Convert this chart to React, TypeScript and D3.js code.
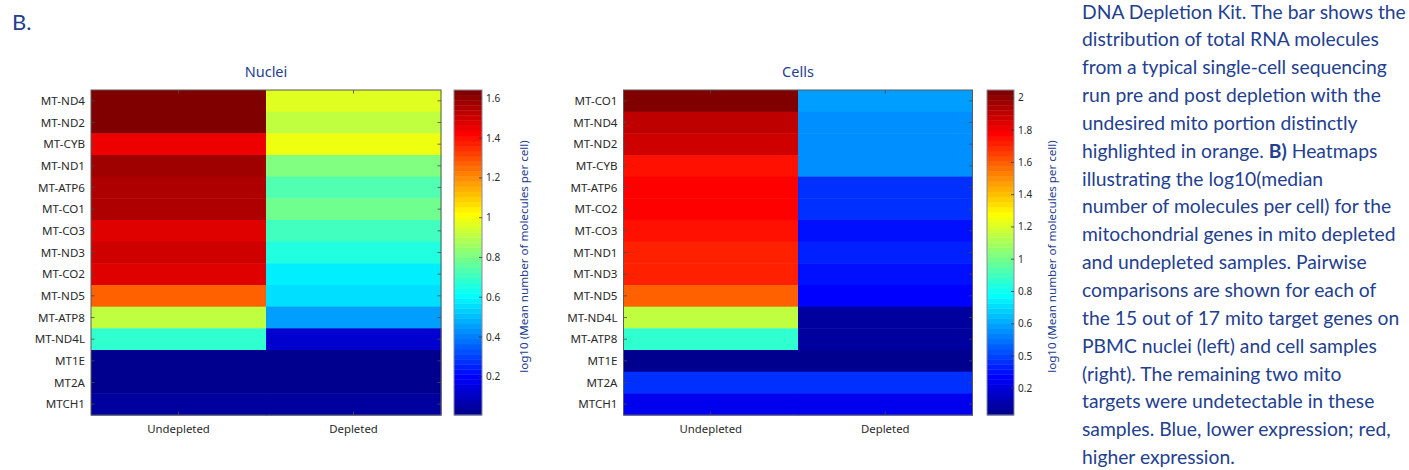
import React from "react";
import * as d3 from "d3";

// ---------- DATA ----------
const conditions = ["Undepleted", "Depleted"];

const nucleiGenes = ["MT-ND4", "MT-ND2", "MT-CYB", "MT-ND1", "MT-ATP6", "MT-CO1", "MT-CO3", "MT-ND3", "MT-CO2", "MT-ND5", "MT-ATP8", "MT-ND4L", "MT1E", "MT2A", "MTCH1"];
const nucleiUndepleted = [1.642, 1.62, 1.45, 1.58, 1.55, 1.56, 1.48, 1.5, 1.47, 1.27, 0.91, 0.69, 0.01, 0.008, 0.05];
const nucleiDepleted = [0.97, 0.92, 0.99, 0.81, 0.74, 0.79, 0.71, 0.66, 0.58, 0.56, 0.46, 0.12, 0.01, 0.01, 0.05];
const nucleiTickValues = [0.2, 0.4, 0.6, 0.8, 1.0, 1.2, 1.4, 1.6];
const nucleiTickLabels = ["0.2", "0.4", "0.6", "0.8", "1", "1.2", "1.4", "1.6"];

const cellsGenes = ["MT-CO1", "MT-ND4", "MT-ND2", "MT-CYB", "MT-ATP6", "MT-CO2", "MT-CO3", "MT-ND1", "MT-ND3", "MT-ND5", "MT-ND4L", "MT-ATP8", "MT1E", "MT2A", "MTCH1"];
const cellsUndepleted = [2.048, 1.9, 1.87, 1.75, 1.78, 1.77, 1.74, 1.71, 1.72, 1.59, 1.15, 0.87, 0.035, 0.37, 0.24];
const cellsDepleted = [0.59, 0.55, 0.55, 0.55, 0.37, 0.37, 0.3, 0.33, 0.3, 0.27, 0.08, 0.09, 0.04, 0.37, 0.24];
const cellsTickValues = [0.2, 0.4, 0.6, 0.8, 1.0, 1.2, 1.4, 1.6, 1.8, 2.0];
const cellsTickLabels = ["0.2", "0.5", "0.6", "0.8", "1", "1.2", "1.4", "1.6", "1.8", "2"];

const colorbarLabel = "log10 (Mean number of molecules per cell)";

const captionLines: { text: string; bold?: boolean }[][] = [
  [{ text: "DNA Depletion Kit. The bar shows the" }],
  [{ text: "distribution of total RNA molecules" }],
  [{ text: "from a typical single-cell sequencing" }],
  [{ text: "run pre and post depletion with the" }],
  [{ text: "undesired mito portion distinctly" }],
  [{ text: "highlighted in orange. " }, { text: "B)", bold: true }, { text: " Heatmaps" }],
  [{ text: "illustrating the log10(median" }],
  [{ text: "number of molecules per cell) for the" }],
  [{ text: "mitochondrial genes in mito depleted" }],
  [{ text: "and undepleted samples. Pairwise" }],
  [{ text: "comparisons are shown for each of" }],
  [{ text: "the 15 out of 17 mito target genes on" }],
  [{ text: "PBMC nuclei (left) and cell samples" }],
  [{ text: "(right). The remaining two mito" }],
  [{ text: "targets were undetectable in these" }],
  [{ text: "samples. Blue, lower expression; red," }],
  [{ text: "higher expression." }],
];

// ---------- MATLAB jet(64) ----------
function jet64(): string[] {
  const n = 64;
  const m = 16;
  const u: number[] = [];
  for (let i = 1; i <= m; i++) u.push(i / m);
  for (let i = 0; i < m - 1; i++) u.push(1);
  for (let i = m; i >= 1; i--) u.push(i / m);
  const R = new Array(n).fill(0), G = new Array(n).fill(0), B = new Array(n).fill(0);
  for (let j = 0; j < u.length; j++) {
    const g = 8 + j + 1; // 1-based
    const r = g + m;
    const b = g - m;
    if (g >= 1 && g <= n) G[g - 1] = u[j];
    if (r >= 1 && r <= n) R[r - 1] = u[j];
    if (b >= 1 && b <= n) B[b - 1] = u[j];
  }
  return R.map((_, i) => d3.rgb(R[i] * 255, G[i] * 255, B[i] * 255).formatHex());
}
const JET = jet64();

const BLUE_TEXT = "#23408e";
const AX_TEXT = "#2a2a2a";
const FONT = "'Noto Sans', 'Open Sans', sans-serif";

type PanelProps = {
  title: string;
  genes: string[];
  undep: number[];
  dep: number[];
  tickValues: number[];
  tickLabels: string[];
  x0: number;
  x1: number;
  cbX0: number;
  cbX1: number;
  labelX: number;
};

const Y0 = 90;
const Y1 = 415;

function Panel(p: PanelProps) {
  const values = [...p.undep, ...p.dep];
  const [cmin, cmax] = d3.extent(values) as [number, number];
  const colorIndex = (v: number) => {
    const k = Math.floor(((v - cmin) / (cmax - cmin)) * 64);
    return Math.max(0, Math.min(63, k));
  };
  const x = d3.scaleBand<string>().domain(conditions).range([p.x0, p.x1]);
  const y = d3.scaleBand<string>().domain(p.genes).range([Y0, Y1]);
  const cb = d3.scaleLinear().domain([cmin, cmax]).range([Y1, Y0]);
  const cbBand = d3.scaleBand<number>().domain(d3.range(64)).range([Y1, Y0]);
  const cols = [p.undep, p.dep];
  const tick = 3.5;
  return (
    <g>
      <text x={(p.x0 + p.x1) / 2} y={77} textAnchor="middle" fontSize={14.5} fill={BLUE_TEXT} fontFamily={FONT}>
        {p.title}
      </text>
      {cols.map((col, ci) =>
        col.map((v, gi) => (
          <rect
            key={`${ci}-${gi}`}
            x={x(conditions[ci])!}
            y={y(p.genes[gi])!}
            width={x.bandwidth() + 0.5}
            height={y.bandwidth() + 0.5}
            fill={JET[colorIndex(v)]}
          />
        ))
      )}
      <rect x={p.x0} y={Y0} width={p.x1 - p.x0} height={Y1 - Y0} fill="none" stroke="#5a5a5a" strokeWidth={1} />
      {p.genes.map((g) => {
        const cy = y(g)! + y.bandwidth() / 2;
        return (
          <g key={g}>
            <line x1={p.x0} x2={p.x0 + tick} y1={cy} y2={cy} stroke="#4a4a4a" strokeWidth={0.8} />
            <line x1={p.x1} x2={p.x1 - tick} y1={cy} y2={cy} stroke="#4a4a4a" strokeWidth={0.8} />
            <text x={p.x0 - 6} y={cy} dy="0.36em" textAnchor="end" fontSize={11.6} fill={AX_TEXT} fontFamily={FONT}>
              {g}
            </text>
          </g>
        );
      })}
      {conditions.map((c) => {
        const cx = x(c)! + x.bandwidth() / 2;
        return (
          <g key={c}>
            <line x1={cx} x2={cx} y1={Y0} y2={Y0 + tick} stroke="#4a4a4a" strokeWidth={0.8} />
            <line x1={cx} x2={cx} y1={Y1} y2={Y1 - tick} stroke="#4a4a4a" strokeWidth={0.8} />
            <text x={cx} y={433} textAnchor="middle" fontSize={11.4} fill={AX_TEXT} fontFamily={FONT}>
              {c}
            </text>
          </g>
        );
      })}
      {/* colorbar */}
      {d3.range(64).map((i) => (
        <rect key={i} x={p.cbX0} y={cbBand(i)!} width={p.cbX1 - p.cbX0} height={cbBand.bandwidth() + 0.4} fill={JET[i]} />
      ))}
      <rect x={p.cbX0} y={Y0} width={p.cbX1 - p.cbX0} height={Y1 - Y0} fill="none" stroke="#8a8a9a" strokeWidth={1} />
      {p.tickValues.map((t, i) => (
        <g key={t}>
          <line x1={p.cbX1} x2={p.cbX1 - 3} y1={cb(t)} y2={cb(t)} stroke="#333" strokeWidth={0.8} />
          <text x={p.cbX1 + 4} y={cb(t)} dy="0.35em" fontSize={10} fill={AX_TEXT} fontFamily={FONT}>
            {p.tickLabels[i]}
          </text>
        </g>
      ))}
      <text
        transform={`translate(${p.labelX},${(Y0 + Y1) / 2 + 4}) rotate(-90)`}
        textAnchor="middle"
        fontSize={11.6}
        fill={BLUE_TEXT}
        fontFamily={FONT}
      >
        {colorbarLabel}
      </text>
    </g>
  );
}

export default function App() {
  return (
    <svg
      width={1409}
      height={470}
      style={{ position: "absolute", left: 0, top: 0, background: "#fff" }}
    >
      <rect width={1409} height={470} fill="#fff" />
      <text x={12} y={30} fontSize={22} fill={BLUE_TEXT} fontFamily="Lato, 'Open Sans', sans-serif">
        B.
      </text>
      <Panel
        title="Nuclei"
        genes={nucleiGenes}
        undep={nucleiUndepleted}
        dep={nucleiDepleted}
        tickValues={nucleiTickValues}
        tickLabels={nucleiTickLabels}
        x0={91}
        x1={441}
        cbX0={454}
        cbX1={482}
        labelX={528}
      />
      <Panel
        title="Cells"
        genes={cellsGenes}
        undep={cellsUndepleted}
        dep={cellsDepleted}
        tickValues={cellsTickValues}
        tickLabels={cellsTickLabels}
        x0={623.5}
        x1={972.5}
        cbX0={987}
        cbX1={1014}
        labelX={1056}
      />
      <g fontFamily="Lato, 'Open Sans', sans-serif" fontSize={19.3} fill={BLUE_TEXT}>
        {captionLines.map((line, i) => (
          <text key={i} x={1082} y={18.5 + i * 27.85}>
            {line.map((seg, j) => (
              <tspan key={j} fontWeight={seg.bold ? 700 : 400}>
                {seg.text}
              </tspan>
            ))}
          </text>
        ))}
      </g>
    </svg>
  );
}
